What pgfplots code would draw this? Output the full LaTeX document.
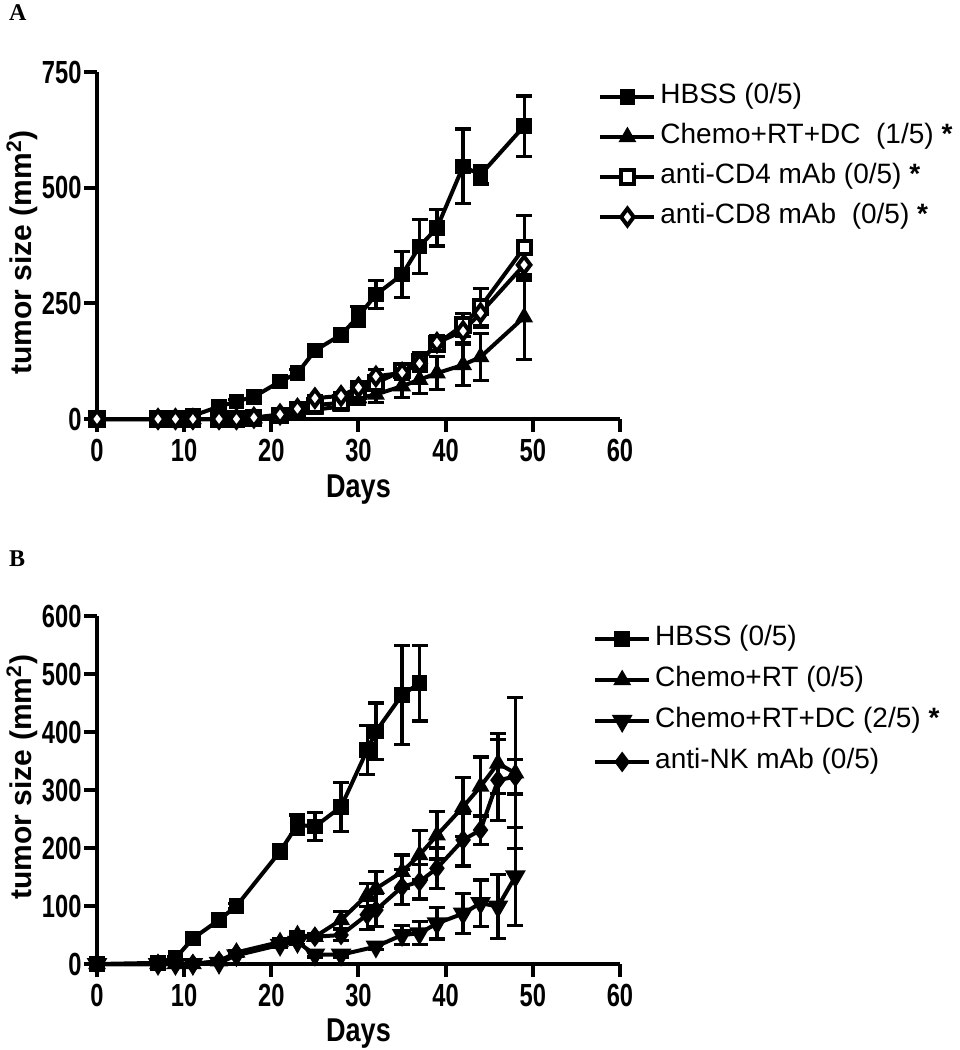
\documentclass[border=0pt]{standalone}
\usepackage{fontspec}
\setmainfont{Liberation Sans}
\newfontfamily\timesfont{Liberation Serif}
\usepackage{pgfplots}
\usepackage{pgfplotstable}
\pgfplotsset{compat=1.18}

% ---------- Panel A data (day, mean, error) ----------
\pgfplotstableread{
x y e
0 0 0
7 0 0
9 0 0
11 7 3
14 27 5
16 38 5
18 48 5
21 81 6
23 99 8
25 148 8
28 182 8
30 222 21
32 269 30
35 312 50
37 373 58
39 413 39
42 546 81
44 528 20
49 633 65
}\hbssA
\pgfplotstableread{
x y e
0 0 0
7 0 0
9 0 0
11 0 0
14 0 0
16 0 0
18 2 1
21 8 3
23 14 4
25 20 5
28 27 8
30 45 14
32 53 18
35 71 25
37 85 30
39 99 36
42 117 44
44 134 50
49 220 92
}\chemoA
\pgfplotstableread{
x y e
0 0 0
7 0 0
9 0 0
11 0 0
14 0 0
16 0 0
18 2 1
21 8 3
23 20 5
25 30 6
28 35 8
30 60 12
32 78 15
35 104 15
37 125 18
39 162 15
42 203 25
44 242 40
49 370 70
}\cdfourA
\pgfplotstableread{
x y e
0 0 0
7 0 0
9 0 0
11 0 0
14 0 0
16 0 0
18 3 1
21 10 3
23 22 5
25 45 6
28 50 8
30 68 12
32 92 15
35 100 15
37 120 18
39 165 15
42 190 25
44 229 30
49 333 27
}\cdeightA

% ---------- Panel B data ----------
\pgfplotstableread{
x y e
0 0 0
7 2 1
9 10 3
11 44 5
14 76 8
16 100 5
21 194 12
23 240 17
25 237 24
28 271 42
31 369 42
32 401 49
35 464 85
37 484 65
}\hbssB
\pgfplotstableread{
x y e
0 0 0
7 0 0
9 0 0
11 0 0
14 5 2
16 20 3
21 38 5
23 50 6
25 47 6
28 76 15
31 119 20
32 130 30
35 159 29
37 188 42
39 222 41
42 271 51
44 306 51
46 346 52
48 329 130
}\chemoB
\pgfplotstableread{
x y e
0 0 0
7 0 0
9 0 0
11 0 0
14 2 1
16 15 2
21 33 4
23 38 5
25 16 4
28 16 4
32 30 5
35 50 17
37 53 20
39 70 27
42 87 35
44 105 40
46 99 55
48 151 85
}\chemodcB
\pgfplotstableread{
x y e
0 0 0
7 0 0
9 0 0
11 0 0
14 5 2
16 18 3
21 35 4
23 45 5
25 47 5
28 50 10
31 85 25
32 93 28
35 133 30
37 142 30
39 165 35
42 214 45
44 231 25
46 317 70
48 323 30
}\nkB

\pgfplotsset{
  myaxis/.style={
    scale only axis,
    width=261.5pt,
    xmin=0, xmax=60, ymin=0,
    axis lines=left,
    axis line style={line width=2pt, -},
    xtick={0,10,...,60},
    tick align=outside,
    major tick length=6.5pt,
    every tick/.style={line width=2pt, black},
    tick label style={font=\fontsize{16}{16}\selectfont\bfseries, xscale=0.74},
    yticklabel style={inner xsep=1.5pt},
    /pgf/number format/assume math mode=true,
    xlabel style={font=\fontsize{16.5}{16.5}\selectfont\bfseries, xscale=0.82, anchor=center},
    ylabel style={font=\fontsize{15}{15}\selectfont\bfseries, anchor=center},
    clip=false,
    legend cell align=left,
    legend style={draw=none, fill=none, anchor=north west,
      font=\fontsize{14}{14}\selectfont,
      row sep=6.5pt, column sep=2pt, inner sep=0pt,
      nodes={inner sep=0pt, text height=10pt, text depth=3.5pt}},
    legend image code/.code={\draw[mark repeat=2, mark phase=2, line width=2pt]
      plot coordinates {(0pt,0pt) (13.5pt,0pt) (27pt,0pt)};},
  },
  ser/.style={black, line width=2pt, mark options={solid, line width=1.2pt},
    error bars/y dir=both, error bars/y explicit,
    error bars/error bar style={line width=1.6pt, black},
    error bars/error mark options={line width=1.6pt, mark size=4pt, rotate=90, black}},
}

\begin{document}
\begin{tikzpicture}[x=1pt,y=1pt]
\useasboundingbox (0,0) rectangle (479.5,-525);

\node[anchor=base west, font=\timesfont\bfseries\fontsize{12}{12}\selectfont] at (1,-10) {A};
\node[anchor=base west, font=\timesfont\bfseries\fontsize{12}{12}\selectfont] at (1,-283) {B};

\begin{axis}[myaxis,
  at={(48.5pt,-209.5pt)}, anchor=south west,
  height=173.5pt, ymax=750, ytick={0,250,500,750},
  xlabel={Days}, ylabel={tumor size (mm\textsuperscript{2})},
  xlabel style={at={(axis description cs:0.5,-0.202)}},
  ylabel style={at={(axis description cs:-0.143,0.48)}},
  legend style={at={(axis description cs:0.958,0.968)}},
]
\addplot[ser, mark=square*, mark size=3.3pt] table[x=x,y=y,y error=e] {\hbssA};
\addlegendentry{HBSS (0/5)}
\addplot[ser, mark=triangle*, mark size=4pt] table[x=x,y=y,y error=e] {\chemoA};
\addlegendentry{Chemo+RT+DC\ \ (1/5) \textbf{*}}
\addplot[ser, mark=square*, mark size=3.3pt, mark options={fill=white}] table[x=x,y=y,y error=e] {\cdfourA};
\addlegendentry{anti-CD4 mAb (0/5) \textbf{*}}
\addplot[ser, mark=diamond*, mark size=4.2pt, mark options={fill=white}] table[x=x,y=y,y error=e] {\cdeightA};
\addlegendentry{anti-CD8 mAb\ \ (0/5) \textbf{*}}
\end{axis}

\begin{axis}[myaxis,
  at={(48.5pt,-482pt)}, anchor=south west,
  height=174pt, ymax=600, ytick={0,100,...,600},
  xlabel={Days}, ylabel={tumor size (mm\textsuperscript{2})},
  xlabel style={at={(axis description cs:0.5,-0.201)}},
  ylabel style={at={(axis description cs:-0.143,0.537)}},
  legend style={at={(axis description cs:0.948,0.974)}, row sep=7pt},
]
\addplot[ser, mark=square*, mark size=3.3pt] table[x=x,y=y,y error=e] {\hbssB};
\addlegendentry{HBSS (0/5)}
\addplot[ser, mark=triangle*, mark size=4pt] table[x=x,y=y,y error=e] {\chemoB};
\addlegendentry{Chemo+RT (0/5)}
\addplot[ser, mark=triangle*, mark size=4pt, mark options={rotate=180}] table[x=x,y=y,y error=e] {\chemodcB};
\addlegendentry{Chemo+RT+DC (2/5) \textbf{*}}
\addplot[ser, mark=diamond*, mark size=4.2pt] table[x=x,y=y,y error=e] {\nkB};
\addlegendentry{anti-NK mAb (0/5)}
\end{axis}
\end{tikzpicture}
\end{document}
